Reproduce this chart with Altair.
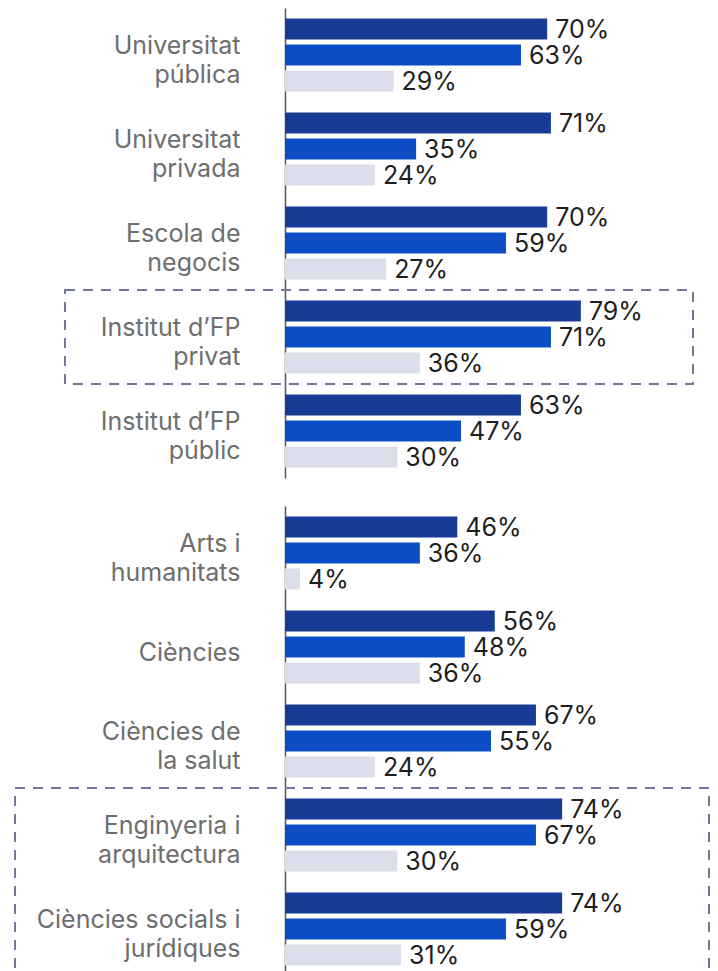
import altair as alt
import pandas as pd

institucions = ["Universitat\npública", "Universitat\nprivada", "Escola de\nnegocis",
                "Institut d’FP\nprivat", "Institut d’FP\npúblic"]
ambits = ["Arts i\nhumanitats", "Ciències", "Ciències de\nla salut",
          "Enginyeria i\narquitectura", "Ciències socials i\njurídiques"]
series = ["Sèrie 1", "Sèrie 2", "Sèrie 3"]
serie1 = [70, 71, 70, 79, 63, 46, 56, 67, 74, 74]
serie2 = [63, 35, 59, 71, 47, 36, 48, 55, 67, 59]
serie3 = [29, 24, 27, 36, 30, 4, 36, 24, 30, 31]
colors = ["#183c96", "#0b4dc4", "#dcdfeb"]

cats = institucions + ambits
rows = []
for i, c in enumerate(cats):
    for s, vals in zip(series, [serie1, serie2, serie3]):
        rows.append({"categoria": c, "serie": s, "valor": vals[i], "etiqueta": f"{vals[i]}%"})
df = pd.DataFrame(rows)

FONT = "Inter"


def panel(section_cats, box_start, box_end, box_x0, box_x1):
    yscale = alt.Scale(domain=section_cats, paddingInner=0, paddingOuter=0)
    axis = alt.Axis(domain=True, domainColor="#555555", domainWidth=1.5, ticks=False, grid=False,
                    labelFont=FONT, labelFontSize=25, labelColor="#6e6e6e", labelPadding=45,
                    labelLineHeight=29,
                    labelOffset={"condition": {"test": "indexof(datum.value, '\\n') < 0", "value": 6},
                                 "value": -9},
                    labelExpr="split(datum.label, '\\n')",
                    minExtent=277, maxExtent=277, labelLimit=300)
    base = alt.Chart(df).transform_filter(
        alt.FieldOneOfPredicate(field="categoria", oneOf=section_cats))
    y = alt.Y("categoria:N", scale=yscale, axis=axis, title=None)
    yoff = alt.YOffset("serie:N", scale=alt.Scale(domain=series, paddingInner=0.19, paddingOuter=0.41))
    x = alt.X("valor:Q", scale=alt.Scale(domain=[0, 110]), axis=None)
    bars = base.mark_bar().encode(
        x=x, y=y, yOffset=yoff,
        color=alt.Color("serie:N", scale=alt.Scale(domain=series, range=colors), legend=None),
    )
    text = base.mark_text(align="left", baseline="middle", dx=8, dy=1, font=FONT, fontSize=25,
                          color="#1e1e1e").encode(x=x, y=y, yOffset=yoff, text="etiqueta:N")
    box = alt.Chart(pd.DataFrame({"inici": [box_start], "fi": [box_end]})).mark_rect(
        fillOpacity=0, stroke="#6f7898", strokeWidth=2, strokeDash=[10, 8], clip=False
    ).encode(
        x=alt.value(box_x0), x2=alt.value(box_x1),
        y=alt.Y("inici:N", bandPosition=0, scale=yscale, axis=axis, title=None),
        y2=alt.Y2("fi:N", bandPosition=1),
    )
    return alt.layer(bars, text, box).properties(width=412, height=470)


p1 = panel(institucions, "Institut d’FP\nprivat", "Institut d’FP\nprivat", -220, 408)
p2 = panel(ambits, "Enginyeria i\narquitectura", "Ciències socials i\njurídiques", -270, 424)

chart = alt.vconcat(p1, p2, spacing=28).properties(padding=0, background="white").configure_view(strokeWidth=0)

chart.save("out.html", embed_options={"renderer": "svg", "actions": False})
